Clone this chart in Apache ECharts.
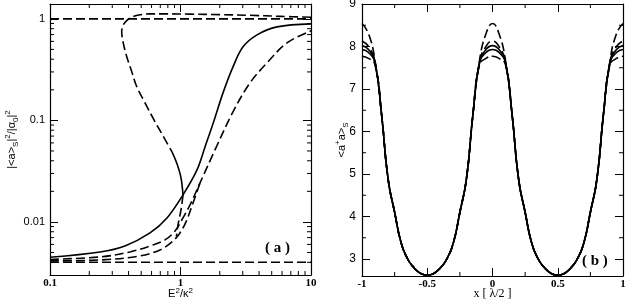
<!DOCTYPE html>
<html><head><meta charset="utf-8">
<script src="https://cdn.jsdelivr.net/npm/echarts@6/dist/echarts.min.js"></script>
<style>html,body{margin:0;padding:0;background:#fff}#c{width:627px;height:300px}</style>
</head><body><div id="c"></div>
<script>
// ---------- Panel (a) data ----------
const aOneX = [0.1, 10];
const aOneY = [1, 1];
const aLowX = [0.1, 10];
const aLowY = [0.004, 0.004];
// bistable branch (dashed), from x=10 back through the turning point
const aSX = [10, 5.79, 3.41, 2.008, 1.183, 0.784, 0.584, 0.490, 0.423, 0.387, 0.3645, 0.3543, 0.3645, 0.387, 0.4227, 0.4617, 0.5346, 0.6265, 0.7341, 0.8609];
const aSY = [1.035, 1.058, 1.083, 1.10, 1.112, 1.12, 1.12, 1.095, 1.039, 0.962, 0.873, 0.750, 0.576, 0.425, 0.3026, 0.2153, 0.1487, 0.1011, 0.0704, 0.0489];
// short solid piece of the branch
const aS2X = [0.8609, 0.940, 1.009, 1.045];
const aS2Y = [0.0489, 0.0373, 0.0271, 0.01845];
// short dashed piece below it
const aS3X = [1.045, 1.009, 0.957, 0.93];
const aS3Y = [0.01845, 0.01313, 0.00934, 0.0072];
// solid curve
const aDX = [0.1, 0.242, 0.375, 0.584, 0.788, 1.045, 1.338, 1.541, 1.806, 2.117, 2.525, 3.013, 3.857, 5.49, 10];
const aDY = [0.00449, 0.00506, 0.0058, 0.0078, 0.01094, 0.01845, 0.0325, 0.0548, 0.0993, 0.1866, 0.3366, 0.530, 0.696, 0.834, 0.893];
// dashed curve E
const aEX = [0.1, 0.242, 0.410, 0.584, 0.7606, 0.9077, 1.045, 1.183, 1.411, 1.838, 2.525, 3.41, 4.60, 6.55, 10];
const aEY = [0.00427, 0.00452, 0.00506, 0.0058, 0.00665, 0.00815, 0.01095, 0.0147, 0.0242, 0.0512, 0.1213, 0.234, 0.3685, 0.580, 0.762];
// dashed curve F
const aFX = [0.1, 0.242, 0.490, 0.6965, 0.861, 0.991, 1.102, 1.225, 1.411];
const aFY = [0.00413, 0.00422, 0.00462, 0.0053, 0.00635, 0.00779, 0.0100, 0.01438, 0.0242];
const aMinorX = [0.2,0.3,0.4,0.5,0.6,0.7,0.8,0.9,2,3,4,5,6,7,8,9];
const aMinorY = [0.004,0.005,0.006,0.007,0.008,0.009,0.02,0.03,0.04,0.05,0.06,0.07,0.08,0.09,0.2,0.3,0.4,0.5,0.6,0.7,0.8,0.9];

// ---------- Panel (b) data ----------
const bX = [-1,-0.95,-0.9,-0.85,-0.8,-0.75,-0.7,-0.65,-0.6,-0.55,-0.5,-0.45,-0.4,-0.35,-0.3,-0.25,-0.2,-0.15,-0.1,-0.05,0,
            0.05,0.1,0.15,0.2,0.25,0.3,0.35,0.4,0.45,0.5,0.55,0.6,0.65,0.7,0.75,0.8,0.85,0.9,0.95,1];
const bD1 = [8.54,8.30,7.66,6.4,4.88,4.1,3.38,3.0,2.79,2.66,2.62,2.66,2.79,3.0,3.38,4.1,4.88,6.4,7.66,8.30,8.54,
             8.30,7.66,6.4,4.88,4.1,3.38,3.0,2.79,2.66,2.62,2.66,2.79,3.0,3.38,4.1,4.88,6.4,7.66,8.30,8.54];
const bD2 = [8.13,8.00,7.64,6.4,4.88,4.1,3.38,3.0,2.79,2.66,2.62,2.66,2.79,3.0,3.38,4.1,4.88,6.4,7.64,8.00,8.13,
             8.00,7.64,6.4,4.88,4.1,3.38,3.0,2.79,2.66,2.62,2.66,2.79,3.0,3.38,4.1,4.88,6.4,7.64,8.00,8.13];
const bS1 = [8.02,7.93,7.62,6.4,4.88,4.1,3.38,3.0,2.79,2.66,2.62,2.66,2.79,3.0,3.38,4.1,4.88,6.4,7.62,7.93,8.02,
             7.93,7.62,6.4,4.88,4.1,3.38,3.0,2.79,2.66,2.62,2.66,2.79,3.0,3.38,4.1,4.88,6.4,7.62,7.93,8.02];
const bS2 = [7.93,7.86,7.60,6.4,4.88,4.1,3.38,3.0,2.79,2.66,2.62,2.66,2.79,3.0,3.38,4.1,4.88,6.4,7.60,7.86,7.93,
             7.86,7.60,6.4,4.88,4.1,3.38,3.0,2.79,2.66,2.62,2.66,2.79,3.0,3.38,4.1,4.88,6.4,7.60,7.86,7.93];
const bD3 = [7.77,7.72,7.57,6.4,4.88,4.1,3.38,3.0,2.79,2.66,2.62,2.66,2.79,3.0,3.38,4.1,4.88,6.4,7.57,7.72,7.77,
             7.72,7.57,6.4,4.88,4.1,3.38,3.0,2.79,2.66,2.62,2.66,2.79,3.0,3.38,4.1,4.88,6.4,7.57,7.72,7.77];
const bMinorX = [-0.75,-0.25,0.25,0.75];
const bMinorY = [3.5,4.5,5.5,6.5,7.5,8.5];

// ---------- helpers ----------
const zip = (xs, ys) => xs.map((x, i) => [x, ys[i]]);
const DASH = [9, 4];
function line(name, xi, yi, data, dashed, smooth) {
  return { type: 'line', name, xAxisIndex: xi, yAxisIndex: yi, data, showSymbol: false, symbol: 'none',
    smooth: smooth === undefined ? 0.35 : smooth, silent: true, z: 3,
    lineStyle: { color: '#000', width: 1.6, type: dashed ? DASH : 'solid' } };
}
function minorTicks(xi, yi, xs, ys, refX, refY) {
  const data = xs.map(v => [v, refY, 0]).concat(ys.map(v => [refX, v, 1]));
  return { type: 'custom', xAxisIndex: xi, yAxisIndex: yi, silent: true, z: 4, clip: false,
    encode: { x: 0, y: 1 }, data,
    renderItem(params, api) {
      const cs = params.coordSys;
      const p = api.coord([api.value(0), api.value(1)]);
      const L = 4, st = { stroke: '#000', lineWidth: 1 };
      if (api.value(2) === 0) {
        const b = cs.y + cs.height, t = cs.y;
        return { type: 'group', children: [
          { type: 'line', shape: { x1: p[0], y1: b, x2: p[0], y2: b - L }, style: st },
          { type: 'line', shape: { x1: p[0], y1: t, x2: p[0], y2: t + L }, style: st }] };
      }
      const l = cs.x, r = cs.x + cs.width;
      return { type: 'group', children: [
        { type: 'line', shape: { x1: l, y1: p[1], x2: l + L, y2: p[1] }, style: st },
        { type: 'line', shape: { x1: r, y1: p[1], x2: r - L, y2: p[1] }, style: st }] };
    } };
}
const axLine = { show: true, onZero: false, lineStyle: { color: '#000', width: 1.2 } };
const tick = { show: true, inside: true, length: 8, lineStyle: { color: '#000', width: 1 } };
const sans = 'Liberation Sans, Arial, sans-serif';
const serif = 'Liberation Serif, Times New Roman, serif';
const supRich = {
  p: { fontSize: 8, fontFamily: sans, color: '#000', verticalAlign: 'top', lineHeight: 16 },
  s: { fontSize: 8, fontFamily: sans, color: '#000', verticalAlign: 'bottom', lineHeight: 16 }
};

const option = {
  animation: false,
  backgroundColor: '#fff',
  grid: [
    { left: 50, top: 4, width: 261, height: 271, outerBoundsMode: 'none', containLabel: false },
    { left: 362, top: 4, width: 261, height: 272, outerBoundsMode: 'none', containLabel: false }
  ],
  xAxis: [
    { type: 'log', gridIndex: 0, min: 0.1, max: 10, logBase: 10, position: 'bottom',
      axisLine: axLine, axisTick: tick, splitLine: { show: false },
      axisLabel: { color: '#000', fontFamily: serif, fontWeight: 'bold', fontSize: 11, margin: 3 },
      name: 'E{p|2}/κ{p|2}', nameLocation: 'middle', nameGap: 12, nameMoveOverlap: false,
      nameTextStyle: { color: '#000', fontFamily: sans, fontSize: 11, lineHeight: 14, rich: {
        p: { fontSize: 8, fontFamily: sans, color: '#000', verticalAlign: 'top', lineHeight: 14 } } } },
    { type: 'log', gridIndex: 0, min: 0.1, max: 10, logBase: 10, position: 'top',
      axisLine: axLine, axisTick: tick, splitLine: { show: false }, axisLabel: { show: false } },
    { type: 'value', gridIndex: 1, min: -1, max: 1, interval: 0.5, position: 'bottom',
      axisLine: axLine, axisTick: tick, splitLine: { show: false },
      axisLabel: { color: '#000', fontFamily: serif, fontWeight: 'bold', fontSize: 11, margin: 3 },
      name: 'x [ λ/2 ]', nameLocation: 'middle', nameGap: 12, nameMoveOverlap: false,
      nameTextStyle: { color: '#000', fontFamily: serif, fontSize: 12 } },
    { type: 'value', gridIndex: 1, min: -1, max: 1, interval: 0.5, position: 'top',
      axisLine: axLine, axisTick: tick, splitLine: { show: false }, axisLabel: { show: false } }
  ],
  yAxis: [
    { type: 'log', gridIndex: 0, min: 0.003, max: 1.4, logBase: 10, position: 'left',
      axisLine: axLine, axisTick: tick, splitLine: { show: false },
      axisLabel: { color: '#000', fontFamily: sans, fontSize: 11, margin: 5, showMinLabel: false, showMaxLabel: false },
      name: '|<a>{s|S}|{p|2}/|α{s|0}|{p|2}', nameLocation: 'middle', nameGap: 30, nameMoveOverlap: false,
      nameTextStyle: { color: '#000', fontFamily: sans, fontSize: 11, lineHeight: 16, rich: supRich } },
    { type: 'log', gridIndex: 0, min: 0.003, max: 1.4, logBase: 10, position: 'right',
      axisLine: axLine, axisTick: tick, splitLine: { show: false }, axisLabel: { show: false } },
    { type: 'value', gridIndex: 1, min: 2.6, max: 9, splitNumber: 6, position: 'left',
      axisLine: axLine, axisTick: tick, splitLine: { show: false },
      axisLabel: { color: '#000', fontFamily: sans, fontSize: 12, margin: 6, showMinLabel: false },
      name: '<a{p|+}a>{s|S}', nameLocation: 'middle', nameGap: 12, nameMoveOverlap: false,
      nameTextStyle: { color: '#000', fontFamily: sans, fontSize: 11, lineHeight: 16, rich: supRich } },
    { type: 'value', gridIndex: 1, min: 2.6, max: 9, splitNumber: 6, position: 'right',
      axisLine: axLine, axisTick: tick, splitLine: { show: false }, axisLabel: { show: false } }
  ],
  graphic: [
    { type: 'text', left: 265, top: 241, style: { text: '( a )', font: 'bold 15px ' + serif, fill: '#000' } },
    { type: 'text', left: 582, top: 254, style: { text: '( b )', font: 'bold 15px ' + serif, fill: '#000' } }
  ],
  series: [
    line('one', 0, 0, zip(aOneX, aOneY), true, false),
    line('low', 0, 0, zip(aLowX, aLowY), true, false),
    line('branch', 0, 0, zip(aSX, aSY), true),
    line('branch2', 0, 0, zip(aS2X, aS2Y), false),
    line('branch3', 0, 0, zip(aS3X, aS3Y), true),
    line('D', 0, 0, zip(aDX, aDY), false),
    line('E', 0, 0, zip(aEX, aEY), true),
    line('F', 0, 0, zip(aFX, aFY), true),
    minorTicks(0, 0, aMinorX, aMinorY, 1, 0.01),
    line('d1', 2, 2, zip(bX, bD1), true, 0.5),
    line('d2', 2, 2, zip(bX, bD2), true, 0.5),
    line('s1', 2, 2, zip(bX, bS1), false, 0.5),
    line('s2', 2, 2, zip(bX, bS2), false, 0.5),
    line('d3', 2, 2, zip(bX, bD3), true, 0.5),
    minorTicks(2, 2, bMinorX, bMinorY, 0, 5)
  ]
};
const chart = echarts.init(document.getElementById('c'), null, { renderer: 'canvas' });
chart.setOption(option);
</script></body></html>
